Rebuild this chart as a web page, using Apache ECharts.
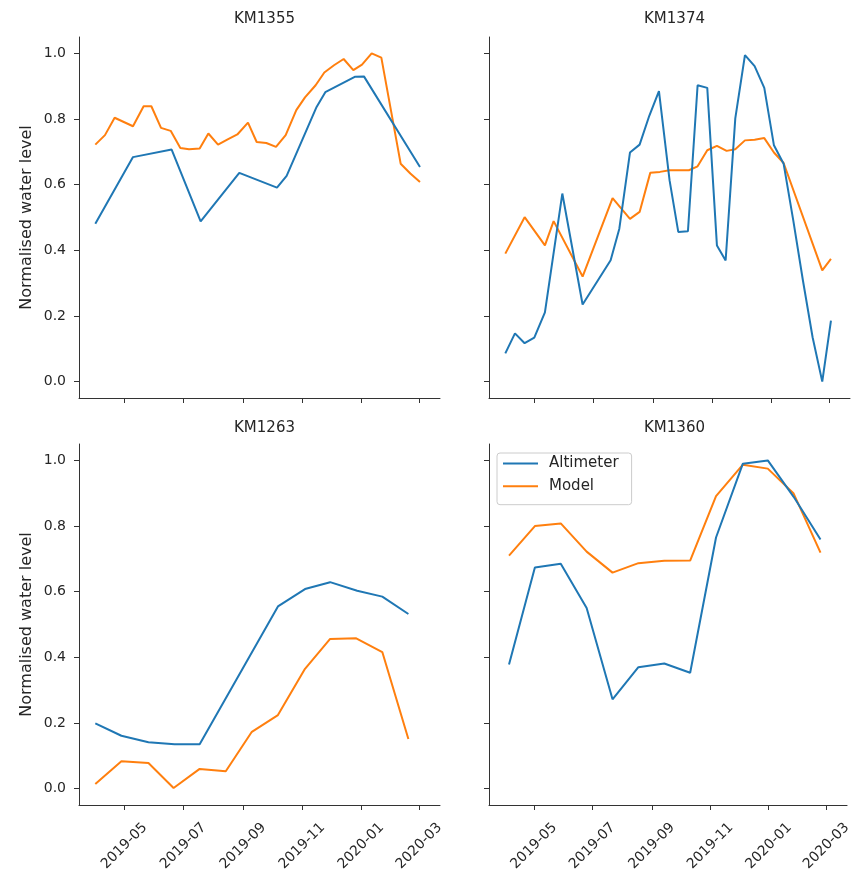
<!DOCTYPE html>
<html>
<head>
<meta charset="utf-8">
<script src="https://cdn.jsdelivr.net/npm/echarts@6/dist/echarts.min.js"></script>
<style>
html,body{margin:0;padding:0;background:#fff;}
#chart{width:854px;height:876px;}
</style>
</head>
<body>
<div id="chart"></div>
<script>
// ---------- data ----------
const panelTitles = ['KM1355', 'KM1374', 'KM1263', 'KM1360'];
const seriesNames = ['Altimeter', 'Model'];
const xTickDates = ['2019-05-01', '2019-07-01', '2019-09-01', '2019-11-01', '2020-01-01', '2020-03-01'];
const yTickValues = [0.0, 0.2, 0.4, 0.6, 0.8, 1.0];

const km1355AltDates = ['2019-04-01','2019-05-10','2019-06-19','2019-07-19','2019-08-28','2019-10-06','2019-10-16','2019-11-16','2019-11-25','2019-12-26','2020-01-04','2020-03-02'];
const km1355AltValues = [0.481,0.684,0.707,0.488,0.636,0.591,0.627,0.837,0.882,0.929,0.930,0.654];
const km1355ModDates = ['2019-04-01','2019-04-11','2019-04-21','2019-05-10','2019-05-21','2019-05-29','2019-06-08','2019-06-18','2019-06-28','2019-07-07','2019-07-18','2019-07-27','2019-08-06','2019-08-16','2019-08-26','2019-09-06','2019-09-15','2019-09-25','2019-10-05','2019-10-15','2019-10-26','2019-11-04','2019-11-15','2019-11-24','2019-12-04','2019-12-14','2019-12-24','2020-01-02','2020-01-12','2020-01-22','2020-02-11','2020-02-21','2020-03-02'];
const km1355ModValues = [0.722,0.751,0.804,0.778,0.839,0.839,0.773,0.764,0.712,0.708,0.710,0.756,0.722,0.738,0.753,0.789,0.730,0.727,0.715,0.751,0.827,0.866,0.903,0.942,0.964,0.983,0.949,0.966,1.0,0.987,0.664,0.634,0.608];

const km1374AltDates = ['2019-04-01','2019-04-11','2019-04-21','2019-05-01','2019-05-12','2019-05-30','2019-06-20','2019-07-19','2019-07-28','2019-08-08','2019-08-18','2019-08-28','2019-09-07','2019-09-18','2019-09-27','2019-10-07','2019-10-17','2019-10-27','2019-11-06','2019-11-15','2019-11-25','2019-12-05','2019-12-15','2019-12-25','2020-01-04','2020-01-14','2020-01-24','2020-02-03','2020-02-13','2020-02-23','2020-03-03'];
const km1374AltValues = [0.086,0.147,0.117,0.134,0.211,0.573,0.235,0.370,0.466,0.698,0.722,0.810,0.885,0.613,0.456,0.458,0.903,0.895,0.415,0.369,0.802,0.995,0.961,0.895,0.720,0.664,0.491,0.308,0.135,0.0,0.186];
const km1374ModDates = ['2019-04-01','2019-04-21','2019-05-12','2019-05-21','2019-06-20','2019-07-21','2019-08-08','2019-08-18','2019-08-29','2019-09-08','2019-09-18','2019-09-28','2019-10-08','2019-10-17','2019-10-27','2019-11-06','2019-11-16','2019-11-25','2019-12-05','2019-12-15','2019-12-25','2020-01-04','2020-01-14','2020-02-23','2020-03-03'];
const km1374ModValues = [0.390,0.501,0.415,0.489,0.320,0.559,0.496,0.517,0.636,0.639,0.644,0.644,0.644,0.656,0.705,0.718,0.703,0.708,0.735,0.737,0.742,0.698,0.666,0.339,0.374];

const km1263AltDates = ['2019-04-01','2019-04-28','2019-05-26','2019-06-22','2019-07-18','2019-10-07','2019-11-04','2019-11-30','2019-12-28','2020-01-23','2020-02-19'];
const km1263AltValues = [0.199,0.161,0.141,0.135,0.135,0.555,0.608,0.629,0.603,0.585,0.532];
const km1263ModDates = ['2019-04-01','2019-04-28','2019-05-26','2019-06-21','2019-07-18','2019-08-14','2019-09-10','2019-10-07','2019-11-04','2019-11-30','2019-12-27','2020-01-23','2020-02-19'];
const km1263ModValues = [0.014,0.083,0.078,0.002,0.060,0.053,0.173,0.224,0.365,0.456,0.458,0.416,0.151];

const km1360AltDates = ['2019-04-05','2019-05-02','2019-05-29','2019-06-25','2019-07-22','2019-08-18','2019-09-14','2019-10-11','2019-11-07','2019-12-05','2019-12-31','2020-01-27','2020-02-24'];
const km1360AltValues = [0.378,0.674,0.685,0.550,0.272,0.370,0.381,0.353,0.765,0.990,1.0,0.889,0.759];
const km1360ModDates = km1360AltDates;
const km1360ModValues = [0.710,0.800,0.808,0.722,0.658,0.687,0.694,0.695,0.891,0.987,0.975,0.899,0.719];

// ---------- build ----------
function ts(s) { const p = s.split('-').map(Number); return new Date(p[0], p[1] - 1, p[2]).getTime(); }
function pairs(dates, values) { return dates.map((d, i) => [ts(d), values[i]]); }
function fmtMonth(v) { const d = new Date(v); return d.getFullYear() + '-' + String(d.getMonth() + 1).padStart(2, '0'); }

const panels = [
  [pairs(km1355AltDates, km1355AltValues), pairs(km1355ModDates, km1355ModValues)],
  [pairs(km1374AltDates, km1374AltValues), pairs(km1374ModDates, km1374ModValues)],
  [pairs(km1263AltDates, km1263AltValues), pairs(km1263ModDates, km1263ModValues)],
  [pairs(km1360AltDates, km1360AltValues), pairs(km1360ModDates, km1360ModValues)]
];

const colors = ['#1f77b4', '#ff7f0e'];
const FONT = 'DejaVu Sans';
const TXT = '#262626';
const AX = '#333333';
const xMin = new Date(2019, 2, 15, 3).getTime();
const xMax = new Date(2020, 2, 22, 17).getTime();
const xTicks = xTickDates.map(ts);

const gridPos = [
  { left: 79, top: 37 }, { left: 489, top: 37 },
  { left: 79, top: 444 }, { left: 489, top: 444 }
];

const grid = [], xAxis = [], yAxis = [], series = [], title = [];
gridPos.forEach((g, i) => {
  grid.push({ left: g.left, top: g.top, width: 361, height: 361 });
  const isBottom = i >= 2, isLeft = i % 2 === 0;
  xAxis.push({
    type: 'value', gridIndex: i, min: xMin, max: xMax, scale: true,
    splitLine: { show: false },
    axisLine: { show: true, onZero: false, lineStyle: { color: AX, width: 1 } },
    axisTick: { show: true, length: 5, customValues: xTicks, lineStyle: { color: AX } },
    axisLabel: {
      show: isBottom, customValues: xTicks, rotate: 45, align: 'center', verticalAlign: 'middle',
      margin: 41, fontFamily: FONT, fontSize: 14, color: TXT, formatter: v => fmtMonth(v)
    }
  });
  yAxis.push({
    type: 'value', gridIndex: i, min: -0.05, max: 1.05,
    splitLine: { show: false },
    axisLine: { show: true, onZero: false, lineStyle: { color: AX, width: 1 } },
    axisTick: { show: true, length: 5, customValues: yTickValues, lineStyle: { color: AX } },
    axisLabel: {
      show: isLeft, customValues: yTickValues, margin: 13, fontFamily: FONT, fontSize: 14, color: TXT,
      formatter: v => Number(v).toFixed(1)
    },
    name: isLeft ? 'Normalised water level' : '',
    nameLocation: 'middle', nameGap: 44,
    nameTextStyle: { fontFamily: FONT, fontSize: 16, color: TXT }
  });
  title.push({
    text: panelTitles[i], left: g.left + 180.5, top: isBottom ? 416 : 7, textAlign: 'center',
    textStyle: { fontFamily: FONT, fontSize: 15, fontWeight: 'normal', color: TXT }
  });
  panels[i].forEach((data, k) => {
    series.push({
      name: seriesNames[k], type: 'line', xAxisIndex: i, yAxisIndex: i,
      data: data, showSymbol: false, symbol: 'none', smooth: false,
      lineStyle: { width: 2, color: colors[k] }, itemStyle: { color: colors[k] },
      emphasis: { disabled: true }, z: k === 0 ? 3 : 2
    });
  });
});

const chart = echarts.init(document.getElementById('chart'), null, { renderer: 'canvas' });
chart.setOption({
  animation: false,
  backgroundColor: '#ffffff',
  title: title,
  grid: grid, xAxis: xAxis, yAxis: yAxis, series: series,
  legend: {
    data: seriesNames, orient: 'vertical', left: 497, top: 453,
    itemWidth: 35, itemHeight: 16, itemGap: 7.7,
    padding: [3, 13, 11, 5],
    itemStyle: { opacity: 0, borderWidth: 0 },
    lineStyle: { width: 2 },
    borderColor: '#cccccc', borderWidth: 1, borderRadius: 3,
    backgroundColor: 'rgba(255,255,255,0.8)',
    textStyle: { fontFamily: FONT, fontSize: 15, color: TXT, padding: [0, 0, 0, 6] }
  }
});
</script>
</body>
</html>
